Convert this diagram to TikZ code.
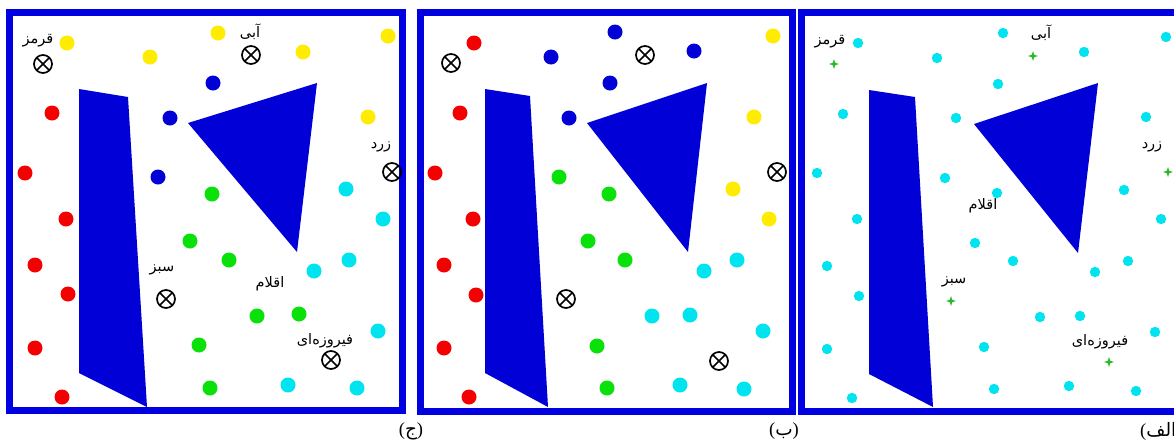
\documentclass[tikz,border=0pt]{standalone}
\usepackage{fontspec}
\TeXXeTstate=1
\newfontfamily\arabicfont[Script=Arabic]{DejaVu Sans}
\newfontfamily\latinfont{Liberation Serif}
\definecolor{frameblue}{RGB}{0,0,225}
\definecolor{shapeblue}{RGB}{0,0,215}
\definecolor{dotred}{RGB}{245,0,0}
\definecolor{dotyellow}{RGB}{255,236,0}
\definecolor{dotblue}{RGB}{0,0,215}
\definecolor{dotgreen}{RGB}{10,225,10}
\definecolor{dotcyan}{RGB}{0,228,240}
\definecolor{stargreen}{RGB}{40,185,40}
\tikzset{
  panelframe/.style={draw=frameblue, line width=7pt},
  obstacle/.style={fill=shapeblue},
  lbl/.style={font=\arabicfont\fontsize{14.5}{16}\selectfont, inner sep=0pt, text=black},
  capt/.style={font=\fontsize{18.5}{20}\selectfont, inner sep=0pt, text=black},
  otimesmark/.style={draw=black, line width=1.7pt},
}
\newcommand\putdots[3]{\foreach \p in {#3} {\fill[#1] \p circle[radius=#2];}}
\newcommand\putotimes[1]{\foreach \p in {#1} {\draw[otimesmark] \p circle[radius=9]; \draw[otimesmark] \p ++(-6.3,-6.3) -- ++(12.6,12.6); \draw[otimesmark] \p ++(-6.3,6.3) -- ++(12.6,-12.6);}}
\newcommand\putstars[1]{\foreach \p in {#1} {\fill[stargreen] \p ++(5,0) -- ++(-3.8,1.2) -- ++(-1.2,3.8) -- ++(-1.2,-3.8) -- ++(-3.8,-1.2) -- ++(3.8,-1.2) -- ++(1.2,-3.8) -- ++(1.2,3.8) -- cycle;}}
\newcommand\captext[1]{{\latinfont(}{\arabicfont\beginR #1\endR}{\latinfont)}}
\begin{document}
\begin{tikzpicture}[x=1pt,y=-1pt]
\clip (0,0) rectangle (1174,440);
\fill[white] (0,0) rectangle (1174,440);

% ---------- panel (ج) ----------
\draw[panelframe] (9.5,12) rectangle (402.5,410.5);
\fill[obstacle] (79,89) -- (128,97) -- (147,407) -- (79,373) -- cycle;
\fill[obstacle] (188,123) -- (317,83) -- (297,252) -- cycle;
\putdots{dotyellow}{7.5}{(67,43),(150,57),(218,33),(303,52),(388,36),(368,117)}
\putdots{dotblue}{7.5}{(213,83),(170,118),(158,177)}
\putdots{dotred}{7.5}{(52,113),(25,173),(66,219),(35,265),(68,294),(35,348),(62,397)}
\putdots{dotgreen}{7.5}{(212,194),(190,241),(229,260),(257,316),(299,314),(199,345),(210,388)}
\putdots{dotcyan}{7.5}{(346,189),(383,219),(349,260),(314,271),(378,331),(288,385),(357,388)}
\putotimes{(43,64),(251,55),(392,172),(166,299),(331,360)}
\node[lbl] (c-red) at (38,41) {\beginR قرمز\endR};
\node[lbl] (c-blue) at (250,32) {\beginR آبی\endR};
\node[lbl] (c-yellow) at (381,147) {\beginR زرد\endR};
\node[lbl] (c-green) at (162,270) {\beginR سبز\endR};
\node[lbl] (c-items) at (270,284) {\beginR اقلام\endR};
\node[lbl] (c-cyan) at (325,341) {\beginR فیروزه‌ای\endR};
\node[capt] (cap-c) at (411,431) {\captext{ج}};

% ---------- panel (ب) ----------
\draw[panelframe] (420,12) rectangle (792,411);
\fill[obstacle] (485,89) -- (530,96) -- (548,407) -- (485,373) -- cycle;
\fill[obstacle] (587,123) -- (707,83) -- (688,252) -- cycle;
\putdots{dotred}{7.5}{(474,43),(460,113),(435,173),(473,219),(444,265),(476,295),(444,348),(469,397)}
\putdots{dotblue}{7.5}{(615,32),(551,57),(694,51),(610,83),(569,118)}
\putdots{dotyellow}{7.5}{(773,36),(754,117),(733,189),(769,219)}
\putdots{dotgreen}{7.5}{(559,177),(609,194),(588,241),(625,260),(597,346),(607,388)}
\putdots{dotcyan}{7.5}{(737,260),(704,271),(652,316),(690,315),(763,331),(680,385),(744,389)}
\putotimes{(451,63),(645,55),(777,172),(566,299),(719,361)}
\node[capt] (cap-b) at (784,431) {\captext{ب}};

% ---------- panel (الف) ----------
\draw[panelframe] (801.5,12) rectangle (1190,411);
\fill[obstacle] (869,90) -- (915,97) -- (933,407) -- (869,374) -- cycle;
\fill[obstacle] (974,124) -- (1098,83) -- (1078,253) -- cycle;
\putdots{dotcyan}{5.2}{(858,43),(1003,33),(937,58),(1084,52),(1166,37),(998,84),(843,114),(956,118),(1146,117),(817,173),(945,178),(997,193),(1124,190),(1161,219),(857,219),(975,243),(1013,261),(1128,261),(1095,272),(827,266),(859,296),(1040,317),(1080,316),(1155,332),(827,349),(984,347),(852,398),(994,389),(1069,386),(1136,391)}
\putstars{(834,64),(1033,56),(1168,172),(951,301),(1109,362)}
\node[lbl] (a-red) at (830,42) {\beginR قرمز\endR};
\node[lbl] (a-blue) at (1041,33) {\beginR آبی\endR};
\node[lbl] (a-yellow) at (1152,147) {\beginR زرد\endR};
\node[lbl] (a-items) at (983,206) {\beginR اقلام\endR};
\node[lbl] (a-green) at (954,282) {\beginR سبز\endR};
\node[lbl] (a-cyan) at (1100,342) {\beginR فیروزه‌ای\endR};
\node[capt, anchor=west] (cap-a) at (1140,431) {\captext{الف}};
\end{tikzpicture}
\end{document}
